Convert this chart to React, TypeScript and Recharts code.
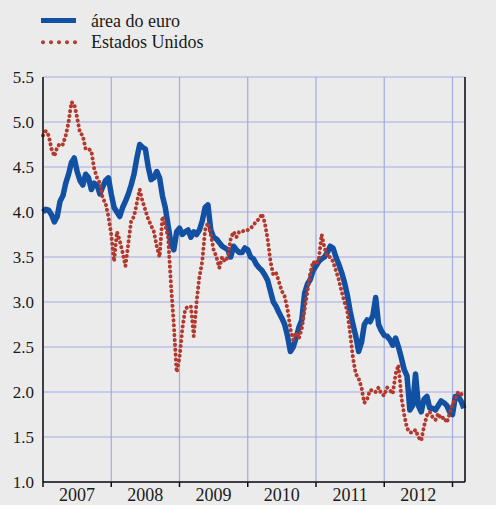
import { CartesianGrid, Line, LineChart, XAxis, YAxis } from "recharts";

// half-month steps starting Jan 2007
const euroArea = [
  4.0, 4.03, 4.02, 3.97, 3.89, 3.95, 4.12, 4.18, 4.32, 4.42, 4.55, 4.6,
  4.45, 4.35, 4.3, 4.42, 4.38, 4.25, 4.32, 4.3, 4.2, 4.28, 4.35, 4.38,
  4.2, 4.05, 4.0, 3.95, 4.05, 4.12, 4.2, 4.3, 4.42, 4.6, 4.75, 4.72,
  4.7, 4.5, 4.36, 4.38, 4.45, 4.38, 4.18, 4.05, 3.85, 3.65, 3.58, 3.78,
  3.82, 3.75, 3.78, 3.8, 3.72, 3.78, 3.75, 3.8, 3.9, 4.05, 4.08, 3.8,
  3.72, 3.7, 3.66, 3.62, 3.6, 3.58, 3.5, 3.62, 3.58, 3.55, 3.55, 3.6,
  3.58, 3.5, 3.48, 3.42, 3.38, 3.35, 3.3, 3.24, 3.12, 3.0, 2.95, 2.88,
  2.82, 2.75, 2.62, 2.45, 2.5, 2.6, 2.72, 2.8, 3.1, 3.2, 3.25, 3.35,
  3.4, 3.45, 3.48, 3.5, 3.55, 3.62, 3.6, 3.5, 3.42, 3.33, 3.22, 3.08,
  2.9, 2.75, 2.62, 2.45, 2.55, 2.75, 2.8, 2.78, 2.85, 3.05, 2.75, 2.68,
  2.63, 2.62, 2.58, 2.52, 2.6, 2.5, 2.38, 2.25, 2.18, 1.8, 1.85, 2.2,
  1.85, 1.78, 1.92, 1.95, 1.82, 1.82, 1.8, 1.85, 1.9, 1.88, 1.85, 1.78,
  1.75, 1.95, 1.95, 1.9, 1.82,
];

const unitedStates = [
  4.85, 4.9, 4.85, 4.7, 4.62, 4.72, 4.76, 4.75, 4.85, 5.0, 5.22, 5.2,
  5.05, 4.88, 4.85, 4.7, 4.7, 4.68, 4.48, 4.38, 4.32, 4.15, 4.1, 3.95,
  3.75, 3.45, 3.78, 3.68, 3.55, 3.4, 3.65, 3.9, 3.95, 4.1, 4.25, 4.12,
  4.02, 3.92, 3.85, 3.78, 3.62, 3.5, 3.95, 3.85, 3.72, 3.2, 2.75, 2.22,
  2.38, 2.7, 2.92, 2.95, 2.95, 2.62, 3.0, 3.28, 3.45, 3.8, 3.88, 3.75,
  3.58, 3.5, 3.38, 3.5, 3.45, 3.5, 3.7, 3.78, 3.72, 3.78, 3.78, 3.8,
  3.8, 3.82, 3.85, 3.9, 3.92, 3.98, 3.88, 3.7, 3.45, 3.3, 3.32, 3.22,
  3.12, 3.06, 2.92, 2.7, 2.58, 2.66, 2.6, 2.7, 2.92, 3.12, 3.32, 3.45,
  3.42, 3.48, 3.75, 3.6, 3.5, 3.5, 3.45, 3.35, 3.25, 3.12, 3.0, 2.9,
  2.65, 2.38, 2.2, 2.15, 2.05, 1.88, 1.92, 2.02, 2.02, 2.0, 2.05, 1.98,
  1.96, 2.05, 2.02, 1.98, 2.2, 2.3, 1.95, 1.75, 1.6, 1.55, 1.55, 1.58,
  1.5, 1.46, 1.62, 1.74, 1.78, 1.72, 1.69, 1.76, 1.7, 1.72, 1.66, 1.76,
  1.86, 1.92, 2.0, 1.98, 1.95,
];

const years = ["2007", "2008", "2009", "2010", "2011", "2012"];
const yearStarts = [0, 12, 24, 36, 48, 60, 72]; // months since Jan 2007
const yTicks = [1.0, 1.5, 2.0, 2.5, 3.0, 3.5, 4.0, 4.5, 5.0, 5.5];

const data = euroArea.map((v, i) => ({ m: i / 2, euro: v, us: unitedStates[i] }));

const X_MAX = 74.2;
const PLOT_LEFT = 43;
const PLOT_RIGHT = 465;
const PX_PER_MONTH = (PLOT_RIGHT - PLOT_LEFT) / X_MAX;

const FONT = "'Liberation Serif', 'Times New Roman', serif";
const BLUE = "#1150a2";
const RED = "#b3392d";
const GRID = "#a3abe0";
const INK = "#1a1a1a";

function YearTick({ x, y, payload }: any) {
  const idx = yearStarts.indexOf(payload.value);
  return (
    <g>
      <line x1={x} x2={x} y1={y} y2={y + 5} stroke="#111" strokeWidth={1.5} />
      {idx >= 0 && idx < years.length && (
        <text
          x={x + 6 * PX_PER_MONTH}
          y={y + 18.5}
          textAnchor="middle"
          fontFamily={FONT}
          fontSize={18}
          fill={INK}
        >
          {years[idx]}
        </text>
      )}
    </g>
  );
}

function ValueTick({ x, y, payload, side }: any) {
  return (
    <text
      x={x}
      y={y}
      textAnchor={side === "left" ? "end" : "start"}
      dominantBaseline="central"
      fontFamily={FONT}
      fontSize={17}
      fill={INK}
    >
      {Number(payload.value).toFixed(1)}
    </text>
  );
}

export default function App() {
  return (
    <div
      style={{
        position: "absolute",
        left: 0,
        top: 0,
        width: 496,
        height: 505,
        background: "#ebebeb",
        overflow: "hidden",
      }}
    >
      <svg width={496} height={60} style={{ position: "absolute", left: 0, top: 0 }}>
        <line x1={41} x2={76} y1={20.5} y2={20.5} stroke={BLUE} strokeWidth={5} />
        <text x={91} y={21} dominantBaseline="central" fontFamily={FONT} fontSize={18} fill={INK}>
          área do euro
        </text>
        {[43, 51, 59, 67, 75].map((cx) => (
          <circle key={cx} cx={cx} cy={42.3} r={2} fill={RED} />
        ))}
        <text x={91} y={42} dominantBaseline="central" fontFamily={FONT} fontSize={18} fill={INK}>
          Estados Unidos
        </text>
      </svg>
      <LineChart
        width={496}
        height={505}
        data={data}
        margin={{ top: 77, right: 0, bottom: 0, left: 0 }}
        style={{ position: "absolute", left: 0, top: 0 }}
      >
        <CartesianGrid stroke={GRID} strokeWidth={1.2} yAxisId="left" />
        <XAxis
          dataKey="m"
          type="number"
          domain={[0, X_MAX]}
          ticks={yearStarts}
          height={23}
          tickSize={0}
          tickMargin={0}
          tickLine={false}
          axisLine={{ stroke: "#111", strokeWidth: 1.5 }}
          tick={<YearTick />}
          interval={0}
        />
        <YAxis
          yAxisId="left"
          orientation="left"
          width={43}
          domain={[1, 5.5]}
          ticks={yTicks}
          interval={0}
          tickSize={0}
          tickMargin={9}
          tickLine={false}
          axisLine={{ stroke: "#111", strokeWidth: 1.5 }}
          tick={<ValueTick side="left" />}
        />
        <YAxis
          yAxisId="right"
          orientation="right"
          width={31}
          domain={[1, 5.5]}
          ticks={yTicks}
          interval={0}
          tickSize={0}
          tickMargin={8}
          tickLine={false}
          axisLine={{ stroke: "#111", strokeWidth: 1.5 }}
          tick={<ValueTick side="right" />}
        />
        <Line
          yAxisId="left"
          dataKey="euro"
          type="linear"
          stroke={BLUE}
          strokeWidth={5.5}
          strokeLinejoin="round"
          dot={false}
          isAnimationActive={false}
        />
        <Line
          yAxisId="left"
          dataKey="us"
          type="linear"
          stroke={RED}
          strokeWidth={4}
          strokeLinecap="round"
          strokeDasharray="0.1 4.8"
          dot={false}
          isAnimationActive={false}
        />
      </LineChart>
    </div>
  );
}
